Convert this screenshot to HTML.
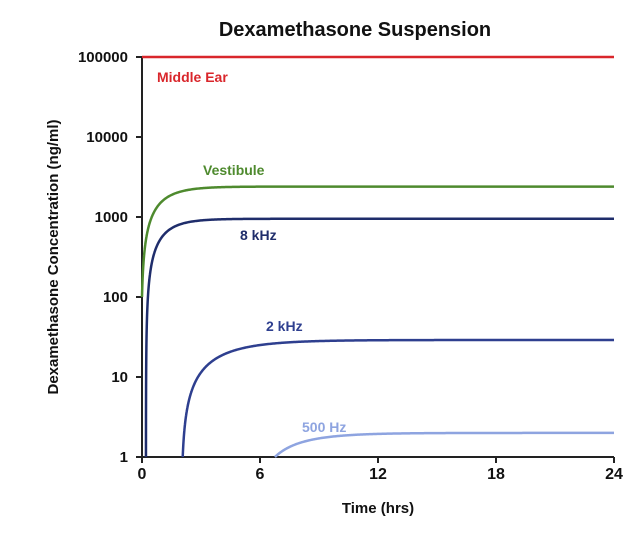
<!DOCTYPE html>
<html><head><meta charset="utf-8"><style>
body{margin:0;background:#fff;}
svg{display:block;font-family:"Liberation Sans",Arial,sans-serif;font-weight:bold;}
</style></head><body>
<svg id="s" width="644" height="542" viewBox="0 0 644 542">
<text x="355" y="36" font-size="20" text-anchor="middle" fill="#111">Dexamethasone Suspension</text>
<text transform="translate(58,257) rotate(-90)" font-size="15" text-anchor="middle" fill="#111">Dexamethasone Concentration (ng/ml)</text>
<text x="378" y="513" font-size="15" text-anchor="middle" fill="#111">Time (hrs)</text>
<g font-size="15" fill="#111" text-anchor="end">
<text x="128" y="62">100000</text><text x="128" y="142">10000</text><text x="128" y="222">1000</text>
<text x="128" y="302">100</text><text x="128" y="382">10</text><text x="128" y="462">1</text>
</g>
<g font-size="16" fill="#111" text-anchor="middle">
<text x="142" y="479">0</text><text x="260" y="479">6</text><text x="378" y="479">12</text>
<text x="496" y="479">18</text><text x="614" y="479">24</text>
</g>
<g stroke="#222" stroke-width="2" fill="none">
<path d="M142 57V457H614"/>
<path d="M136 57H142M136 137H142M136 217H142M136 297H142M136 377H142M136 457H142"/>
<path d="M142 457V463M260 457V463M378 457V463M496 457V463M614 457V463"/>
</g>
<line x1="142" y1="57" x2="614" y2="57" stroke="#d9262b" stroke-width="2.5"/>
<g id="curves" fill="none" stroke-width="2.5"></g>
<g font-size="14">
<text x="157" y="82" fill="#d9262b">Middle Ear</text>
<text x="203" y="175" fill="#4e8a2e">Vestibule</text>
<text x="240" y="240" fill="#1f2d6b">8 kHz</text>
<text x="266" y="331" fill="#2e3f8f">2 kHz</text>
<text x="302" y="432" fill="#8ea4e0">500 Hz</text>
</g>
</svg>
<script>
function X(t){return 142+t*472/24;}
function Y(c){return 457-80*Math.log10(c);}
function curve(f,t0,col){
 var a=t0,b=24;
 if(f(a)<1){for(var i=0;i<60;i++){var m=(a+b)/2;if(f(m)<1)a=m;else b=m;}a=b;}
 var d="M"+X(a).toFixed(2)+" "+Y(Math.max(1,f(a))).toFixed(2);
 var t=a,n=0;
 while(t<24){t+= (t-a<0.5?0.002:0.05); if(t>24)t=24; d+="L"+X(t).toFixed(2)+" "+Y(f(t)).toFixed(2);}
 var p=document.createElementNS("http://www.w3.org/2000/svg","path");p.setAttribute("d",d);p.setAttribute("stroke",col);document.getElementById("curves").appendChild(p);}
curve(function(t){return 100+2300*(1-Math.exp(-1.0*t));},0,"#4e8a2e");
curve(function(t){return 950*(1-Math.exp(-1.1*(t-0.2)));},0.2,"#1f2d6b");
curve(function(t){return 29*(1-Math.exp(-0.5*(t-2.0)));},2.0,"#2e3f8f");
curve(function(t){return 2.0*(1-Math.exp(-0.55*(t-5.5)));},5.5,"#8ea4e0");
</script>
</body></html>
